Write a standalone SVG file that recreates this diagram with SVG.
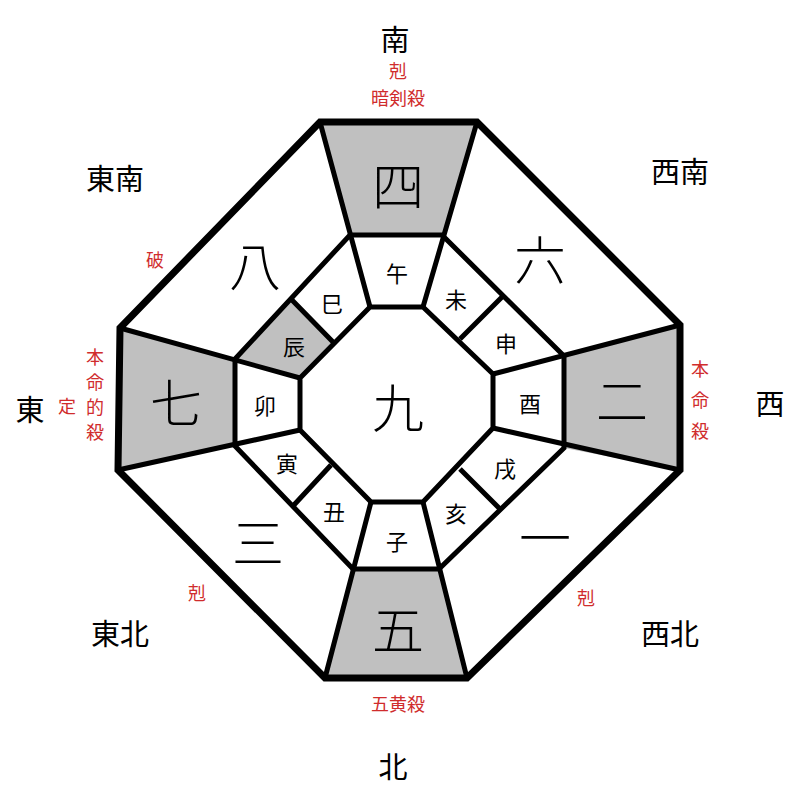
<svg xmlns="http://www.w3.org/2000/svg" width="800" height="800" viewBox="0 0 800 800">
<style>
.t{font-family:"Noto Sans CJK JP","Noto Sans CJK SC",sans-serif;fill:#000;text-anchor:middle;dominant-baseline:central}
.big{font-size:52px;font-weight:300}
.br{font-size:22px}
.dir{font-size:29px}
.r{font-family:"Noto Sans CJK JP","Noto Sans CJK SC",sans-serif;fill:#d02c2c;font-size:18px;text-anchor:middle;dominant-baseline:central}
.g{fill:#c0c0c0}
.ln{fill:none;stroke:#000;stroke-width:5;stroke-linejoin:miter}
</style>
<rect width="800" height="800" fill="#fff"/>
<g id="fills">
<polygon class="g" points="320,122 477,122 442,235 350,235"/>
<polygon class="g" points="680,325 680,470 564,448 564,356"/>
<polygon class="g" points="325,678 467,678 439,569 353,569"/>
<polygon class="g" points="120,328 235,359 235,446 118,470"/>
<polygon class="g" points="291,299 235,359 300,378 333,342"/>
</g>
<g id="lines">
<polygon class="ln" points="320,122 477,122 680,325 680,470 467,678 325,678 118,470 120,328" style="stroke-width:7"/>
<polygon class="ln" points="350,235 442,235 564,356 564,448 439,569 353,569 235,446 235,359"/>
<polygon class="ln" points="370,307 423,307 493,374 493,428 423,502 371,502 300,430 300,378"/>
<path class="ln" d="M320,122L370,307M477,122L423,307M680,325L493,374M680,470L493,428M467,678L423,502M325,678L371,502M118,470L300,430M120,328L300,378M291,299L333,342M502,297L460,339M460,469L500,509M331,465L293,506"/>
</g>
<g id="stars">
<text class="t big" x="398" y="183">四</text>
<text class="t big" x="255" y="263">八</text>
<text class="t big" x="540" y="257">六</text>
<text class="t big" x="176" y="400">七</text>
<text class="t big" x="398" y="405">九</text>
<text class="t big" x="622" y="398">二</text>
<text class="t big" x="258" y="540">三</text>
<text class="t big" x="545" y="535">一</text>
<text class="t big" x="398" y="627">五</text>
</g>
<g id="branches">
<text class="t br" x="397" y="272">午</text>
<text class="t br" x="332" y="302">巳</text>
<text class="t br" x="456" y="298">未</text>
<text class="t br" x="294" y="345">辰</text>
<text class="t br" x="506" y="342">申</text>
<text class="t br" x="265" y="404">卯</text>
<text class="t br" x="530" y="402">酉</text>
<text class="t br" x="287" y="462">寅</text>
<text class="t br" x="505" y="467">戌</text>
<text class="t br" x="334" y="510">丑</text>
<text class="t br" x="456" y="512">亥</text>
<text class="t br" x="397" y="540">子</text>
</g>
<g id="directions">
<text class="t dir" x="395" y="38">南</text>
<text class="t dir" x="115" y="177">東南</text>
<text class="t dir" x="680" y="170">西南</text>
<text class="t dir" x="30" y="408">東</text>
<text class="t dir" x="770" y="402">西</text>
<text class="t dir" x="120" y="632">東北</text>
<text class="t dir" x="670" y="632">西北</text>
<text class="t dir" x="393" y="765">北</text>
</g>
<g id="marks">
<text class="r" x="398" y="70">剋</text>
<text class="r" x="398" y="97">暗剣殺</text>
<text class="r" x="155" y="259">破</text>
<text class="r" x="95" y="356">本</text>
<text class="r" x="95" y="381">命</text>
<text class="r" x="95" y="406">的</text>
<text class="r" x="95" y="431">殺</text>
<text class="r" x="67" y="405">定</text>
<text class="r" x="700" y="368">本</text>
<text class="r" x="700" y="399">命</text>
<text class="r" x="700" y="430">殺</text>
<text class="r" x="197" y="592">剋</text>
<text class="r" x="586" y="597">剋</text>
<text class="r" x="398" y="703">五黄殺</text>
</g>
</svg>
